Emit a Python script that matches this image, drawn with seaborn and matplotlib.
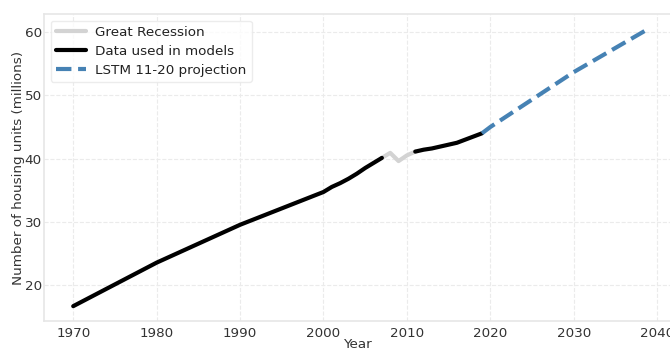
import numpy as np
import pandas as pd
import seaborn as sns
import matplotlib
matplotlib.use("Agg")
import matplotlib.pyplot as plt

# Housing stock (millions of units)
years_hist = [1970, 1980, 1990, 2000, 2001, 2002, 2003, 2004, 2005, 2006, 2007]
units_hist = [16.6, 23.5, 29.5, 34.7, 35.5, 36.1, 36.8, 37.6, 38.5, 39.3, 40.1]

years_recession = [2007, 2008, 2009, 2010, 2011]
units_recession = [40.1, 40.9, 39.6, 40.5, 41.1]

years_recent = [2011, 2012, 2013, 2014, 2015, 2016, 2017, 2018, 2019]
units_recent = [41.1, 41.4, 41.6, 41.9, 42.2, 42.5, 43.0, 43.5, 44.0]

years_proj = [2019, 2020, 2030, 2039]
units_proj = [44.0, 45.0, 53.7, 60.6]

sns.set_theme(style="whitegrid")
plt.rcParams["font.family"] = ["DejaVu Sans"]

fig = plt.figure(figsize=(6.7, 3.48), dpi=100)
ax = fig.add_axes([0.0657, 0.0776, 0.955, 0.882])

sns.lineplot(x=years_recession, y=units_recession, ax=ax, color="#d3d3d3",
             linewidth=3, label="Great Recession")
sns.lineplot(x=years_hist, y=units_hist, ax=ax, color="black",
             linewidth=3, label="Data used in models")
sns.lineplot(x=years_recent, y=units_recent, ax=ax, color="black",
             linewidth=3)
sns.lineplot(x=years_proj, y=units_proj, ax=ax, color="steelblue",
             linewidth=3, linestyle="--", label="LSTM 11-20 projection")

ax.set_xlim(1966.5, 2043.2)
ax.set_ylim(14.25, 62.9)
ax.set_xticks([1970, 1980, 1990, 2000, 2010, 2020, 2030, 2040])
ax.set_yticks([20, 30, 40, 50, 60])

ax.grid(True, color="#ebebeb", linewidth=0.8, linestyle="--")
for side in ["left", "bottom", "top", "right"]:
    ax.spines[side].set_color("#e6e6e6")
    ax.spines[side].set_linewidth(1.2)

ax.tick_params(axis="both", labelsize=9.7, colors="#333333", length=0)
ax.tick_params(axis="y", pad=1.5)
ax.tick_params(axis="x", pad=4)
ax.set_xlabel("Year", fontsize=9.7, color="#333333")
ax.set_ylabel("Number of housing units (millions)", fontsize=9.7, color="#333333", labelpad=0)
ax.xaxis.set_label_coords(0.491, -0.055)
ax.xaxis.label.set_verticalalignment("top")

leg = ax.legend(loc="upper left", fontsize=9.7, frameon=True, handlelength=2.2,
                handletextpad=0.7, borderaxespad=0.5, labelspacing=0.42)
leg.get_frame().set_edgecolor("#e8e8e8")
for t in leg.get_texts():
    t.set_color("#222222")

fig.savefig("out.png", dpi=100)
